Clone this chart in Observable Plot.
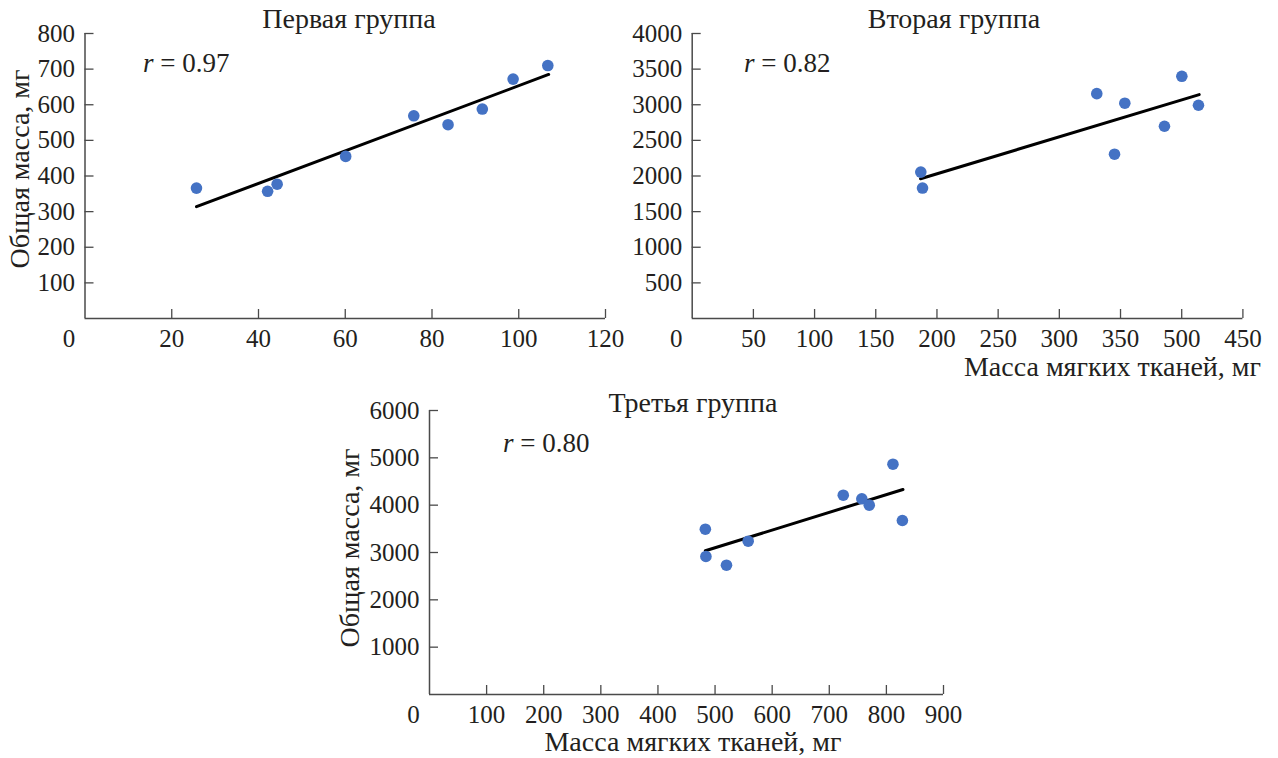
<!DOCTYPE html>
<html>
<head>
<meta charset="utf-8">
<script src="https://cdn.jsdelivr.net/npm/d3@7"></script>
<script src="https://cdn.jsdelivr.net/npm/@observablehq/plot@0.6"></script>
<style>
  body { margin: 0; background: #ffffff; }
  #root { position: relative; width: 1278px; height: 758px; overflow: hidden;
          font-family: "Liberation Serif", "Times New Roman", serif; color: #231f20; }
  .panel { position: absolute; }
  .panel svg { font-family: "Liberation Serif", "Times New Roman", serif !important; overflow: visible; }
  .lbl { position: absolute; white-space: nowrap; line-height: 1; }
  .ctr { transform: translate(-50%, -50%); }
  .rot { transform: translate(-50%, -50%) rotate(-90deg); }
</style>
</head>
<body>
<div id="root"></div>
<script>
// ---------- Data ----------
// Group 1 ("Первая группа")
const g1Soft  = [25.7, 42.1, 44.3, 60.1, 75.8, 83.7, 91.6, 98.7, 106.7];
const g1Total = [366, 357, 377, 455, 569, 544, 588, 672, 710];
const g1FitX  = [25.7, 106.9];
const g1FitY  = [314, 685];
const g1XTicks = [20, 40, 60, 80, 100, 120];
const g1XLabels = ["20", "40", "60", "80", "100", "120"];
const g1YTicks = [100, 200, 300, 400, 500, 600, 700, 800];

// Group 2 ("Вторая группа")
const g2Soft  = [186.8, 188.2, 330.6, 353.5, 345.1, 385.9, 400.1, 413.7];
const g2Total = [2055, 1831, 3156, 3022, 2306, 2698, 3399, 2993];
const g2FitX  = [186.6, 414.3];
const g2FitY  = [1961, 3143];
const g2XTicks = [50, 100, 150, 200, 250, 300, 350, 400, 450];
const g2XLabels = ["50", "100", "150", "200", "250", "300", "350", "500", "450"];
const g2YTicks = [500, 1000, 1500, 2000, 2500, 3000, 3500, 4000];

// Group 3 ("Третья группа")
const g3Soft  = [483, 484, 520, 558, 724.5, 757, 770, 811.5, 828];
const g3Total = [3492, 2916, 2732, 3239, 4211, 4135, 4000, 4866, 3676];
const g3FitX  = [483, 829];
const g3FitY  = [3036, 4331];
const g3XTicks = [100, 200, 300, 400, 500, 600, 700, 800, 900];
const g3XLabels = ["100", "200", "300", "400", "500", "600", "700", "800", "900"];
const g3YTicks = [1000, 2000, 3000, 4000, 5000, 6000];

const titles = ["Первая группа", "Вторая группа", "Третья группа"];
const rValues = ["0.97", "0.82", "0.80"];
const yTitle = "Общая масса, мг";
const xTitle = "Масса мягких тканей, мг";

// ---------- Styling ----------
const serif = '"Liberation Serif", "Times New Roman", serif';
const dotColor = "#4472C4";
const axisColor = "#4a4a4a";
const textColor = "#231f20";
const tickFont = 25;

function panel(cfg) {
  const {xs, ys, fitX, fitY, xDomain, yDomain, xTicks, xLabels, yTicks,
         width, height, ml, mr, mt, mb} = cfg;
  const pts = xs.map((x, i) => ({x, y: ys[i]}));
  const fit = fitX.map((x, i) => ({x, y: fitY[i]}));
  const innerW = width - ml - mr;
  const innerH = height - mt - mb;
  const labelMap = new Map(xTicks.map((t, i) => [t, xLabels[i]]));
  const txt = {fontSize: tickFont, fontFamily: serif, fill: textColor};
  return Plot.plot({
    width, height,
    marginLeft: ml, marginRight: mr, marginTop: mt, marginBottom: mb,
    style: `font-family: ${serif}; font-size: ${tickFont}px; color: ${textColor}; background: transparent; overflow: visible;`,
    x: {domain: xDomain, label: null},
    y: {domain: yDomain, label: null},
    marks: [
      Plot.ruleX([xDomain[0]], {stroke: axisColor, strokeWidth: 1.5}),
      Plot.ruleY([yDomain[0]], {stroke: axisColor, strokeWidth: 1.5}),
      Plot.tickX(xTicks, {x: d => d, insetTop: innerH - 9, stroke: axisColor, strokeWidth: 1.3}),
      Plot.tickY(yTicks, {y: d => d, insetRight: innerW - 9, stroke: axisColor, strokeWidth: 1.3}),
      Plot.axisX(xTicks, {tickSize: 0, tickPadding: 11, tickFormat: d => labelMap.get(d), ...txt}),
      Plot.axisX([xDomain[0]], {tickSize: 0, tickPadding: 11, dx: -16, tickFormat: d => String(d), ...txt}),
      Plot.axisY(yTicks, {tickSize: 0, tickPadding: 10, tickFormat: d => String(d), ...txt}),
      Plot.line(fit, {x: "x", y: "y", stroke: "#000000", strokeWidth: 3}),
      Plot.dot(pts, {x: "x", y: "y", r: 5.8, fill: dotColor, stroke: "none"})
    ]
  });
}

const root = document.getElementById("root");

function place(node, left, top) {
  const wrap = document.createElement("div");
  wrap.className = "panel";
  wrap.style.left = left + "px";
  wrap.style.top = top + "px";
  wrap.appendChild(node);
  root.appendChild(wrap);
}

function label(html, left, top, cls, size, extra) {
  const d = document.createElement("div");
  d.className = "lbl " + cls;
  d.style.left = left + "px";
  d.style.top = top + "px";
  d.style.fontSize = size + "px";
  if (extra) Object.assign(d.style, extra);
  d.innerHTML = html;
  root.appendChild(d);
  return d;
}

place(panel({xs: g1Soft, ys: g1Total, fitX: g1FitX, fitY: g1FitY,
  xDomain: [0, 120], yDomain: [0, 800], xTicks: g1XTicks, xLabels: g1XLabels, yTicks: g1YTicks,
  width: 640, height: 380, ml: 84.5, mr: 35, mt: 33, mb: 62}), 0, 0);

place(panel({xs: g2Soft, ys: g2Total, fitX: g2FitX, fitY: g2FitY,
  xDomain: [0, 450], yDomain: [0, 4000], xTicks: g2XTicks, xLabels: g2XLabels, yTicks: g2YTicks,
  width: 678, height: 380, ml: 91.7, mr: 35.6, mt: 33, mb: 62}), 600, 0);

place(panel({xs: g3Soft, ys: g3Total, fitX: g3FitX, fitY: g3FitY,
  xDomain: [0, 900], yDomain: [0, 6000], xTicks: g3XTicks, xLabels: g3XLabels, yTicks: g3YTicks,
  width: 640, height: 378, ml: 99, mr: 27, mt: 30, mb: 64}), 330, 380);

// Titles
label(titles[0], 349, 19, "ctr", 28);
label(titles[1], 954, 19, "ctr", 28);
label(titles[2], 693, 403, "ctr", 28);
// Correlation annotations
label("<i>r</i> = " + rValues[0], 143, 63, "", 27, {transform: "translate(0,-50%)"});
label("<i>r</i> = " + rValues[1], 744, 63, "", 27, {transform: "translate(0,-50%)"});
label("<i>r</i> = " + rValues[2], 503, 443, "", 27, {transform: "translate(0,-50%)"});
// Axis titles
label(yTitle, 20, 169, "rot", 28);
label(yTitle, 350, 548, "rot", 28);
label(xTitle, 1261, 367, "", 28, {transform: "translate(-100%,-50%)"});
label(xTitle, 693, 742, "ctr", 28);
</script>
</body>
</html>
